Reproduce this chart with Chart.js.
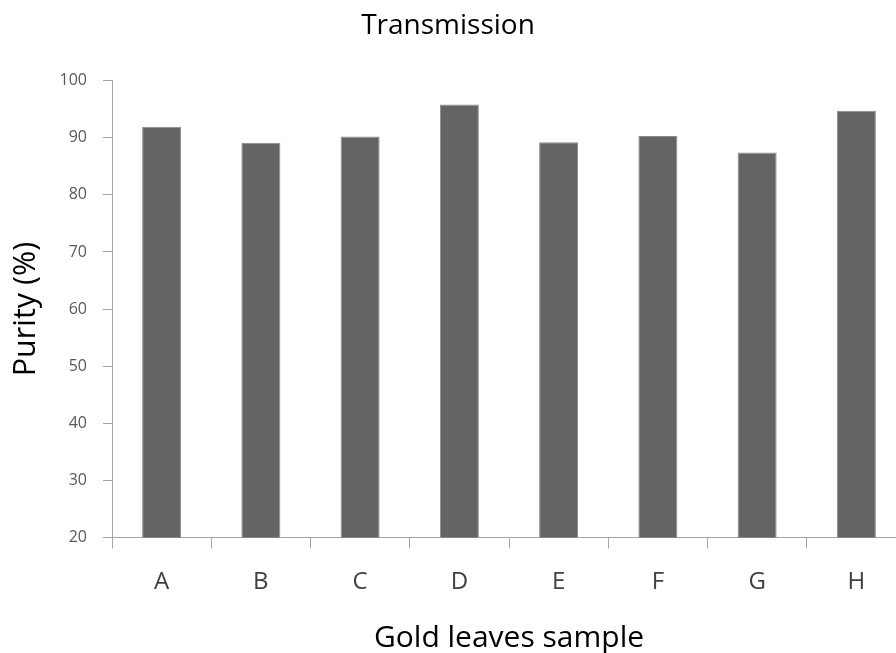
<!DOCTYPE html>
<html>
<head>
<meta charset="utf-8">
<script src="https://cdn.jsdelivr.net/npm/chart.js@4"></script>
<style>
  html, body { margin: 0; padding: 0; background: #fff; overflow: hidden; width: 896px; height: 653px; }
  #wrap { position: absolute; left: -10px; top: 0; }
</style>
</head>
<body>
<div id="wrap"><canvas id="c" width="916" height="653"></canvas></div>
<script>
const samples = ['A', 'B', 'C', 'D', 'E', 'F', 'G', 'H'];
const purity = [91.9, 89.1, 90.2, 95.8, 89.2, 90.3, 87.4, 94.7];
const yMin = 20, yMax = 100, yStep = 10;

const FONT = '"Open Sans", "Noto Sans", sans-serif';
const axisGrey = '#a6a6a6';

new Chart(document.getElementById('c'), {
  type: 'bar',
  data: {
    labels: samples,
    datasets: [{
      data: purity,
      backgroundColor: '#646464',
      borderColor: '#8c8c8c',
      borderWidth: 1,
      categoryPercentage: 1,
      barPercentage: 0.393
    }]
  },
  options: {
    responsive: false,
    animation: false,
    layout: { padding: 0 },
    plugins: {
      legend: { display: false },
      tooltip: { enabled: false },
      title: {
        display: true,
        text: 'Transmission',
        color: '#000',
        font: { family: FONT, size: 28, weight: 'normal', lineHeight: 1.2 },
        padding: { top: 9, bottom: 38 }
      }
    },
    scales: {
      x: {
        offset: true,
        grid: { display: true, drawOnChartArea: false, drawTicks: true, tickLength: 11, offset: true, color: axisGrey },
        border: { display: true, color: axisGrey, width: 1 },
        ticks: { color: '#404040', font: { family: FONT, size: 24 }, padding: 19 },
        title: {
          display: true,
          text: 'Gold leaves sample',
          color: '#000',
          font: { family: FONT, size: 30, lineHeight: 1.0 },
          padding: { top: 0, bottom: 0 }
        },
        afterFit: (s) => { s.height = 115.5; }
      },
      y: {
        min: yMin,
        max: yMax,
        grid: { display: true, drawOnChartArea: false, drawTicks: true, tickLength: 9, color: axisGrey },
        border: { display: true, color: axisGrey, width: 1 },
        ticks: { stepSize: yStep, color: '#595959', font: { family: FONT, size: 16 }, padding: 16 },
        title: {
          display: true,
          text: 'Purity (%)',
          color: '#000',
          font: { family: FONT, size: 30.5, lineHeight: 1.2 },
          padding: { top: 18, bottom: 0 }
        },
        afterFit: (s) => { s.width = 122; }
      }
    }
  }
});
</script>
</body>
</html>
